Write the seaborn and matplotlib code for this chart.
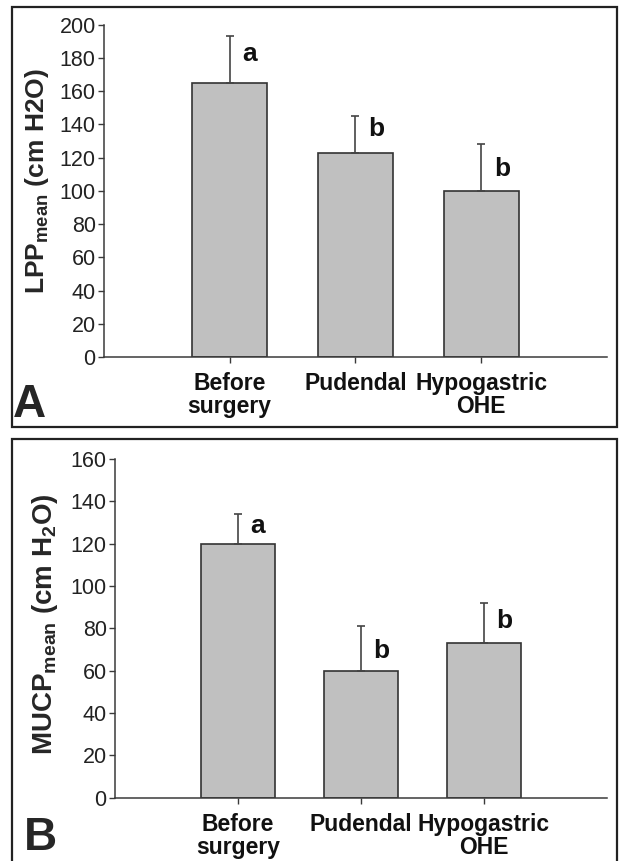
import numpy as np
import matplotlib
matplotlib.use("Agg")
import matplotlib.pyplot as plt
from matplotlib.patches import Rectangle
import seaborn as sns

# -----------------------------
# DATA
# -----------------------------
groups = ["Before\nsurgery", "Pudendal", "Hypogastric\nOHE"]

lpp_mean = [165, 123, 100]
lpp_sd = [28, 22, 28]
lpp_letters = ["a", "b", "b"]
lpp_letter_y = [178, 133, 109]

mucp_mean = [120, 60, 73]
mucp_sd = [14, 21, 19]
mucp_letters = ["a", "b", "b"]
mucp_letter_y = [125, 66, 80]

# -----------------------------
# STYLE
# -----------------------------
sns.set_style("ticks")
plt.rcParams["font.family"] = ["Liberation Sans", "DejaVu Sans"]
plt.rcParams["mathtext.fontset"] = "custom"
plt.rcParams["mathtext.rm"] = "Liberation Sans"
plt.rcParams["mathtext.bf"] = "Liberation Sans:bold"

BAR = "#C0C0C0"
EDGE = "#333333"
AX = "#3a3a3a"

fig = plt.figure(figsize=(6.2, 8.61), dpi=100)
ax_a = fig.add_axes([0.1677, 0.5854, 0.8113, 0.3859])
ax_b = fig.add_axes([0.1855, 0.0735, 0.7935, 0.3934])


def panel(ax, means, sds, letters, letter_y, ymax, ylabel, label_xy, ylab_size):
    sns.barplot(x=groups, y=means, color=BAR, saturation=1, width=0.6,
                edgecolor=EDGE, linewidth=1.2, ax=ax)
    pos = np.arange(len(groups))
    ax.errorbar(pos, means, yerr=[np.zeros(len(sds)), sds], fmt="none",
                ecolor="#444444", elinewidth=1.2, capsize=3, capthick=1.2)
    for i, (t, y) in enumerate(zip(letters, letter_y)):
        ax.text(i + 0.1, y, t, ha="left", va="baseline",
                fontsize=19, fontweight="bold", color="#111111")
    ax.set_xlim(-1, len(groups))
    ax.set_ylim(0, ymax)
    ax.set_yticks(np.arange(0, ymax + 1, 20))
    ax.tick_params(axis="y", labelsize=15.5, length=4, width=1, color=AX,
                   pad=2, labelcolor="#222222")
    ax.tick_params(axis="x", labelsize=16.5, length=4, width=1, color=AX,
                   pad=7, labelcolor="#111111")
    for lab in ax.get_xticklabels():
        lab.set_fontweight("bold")
        lab.set_linespacing(1.0)
    ax.set_ylabel(ylabel, fontsize=ylab_size, fontweight="bold", va="center")
    ax.yaxis.set_label_coords(*label_xy)
    ax.set_xlabel("")
    sns.despine(ax=ax)
    for s in ["left", "bottom"]:
        ax.spines[s].set_color(AX)
        ax.spines[s].set_linewidth(1.1)


panel(ax_a, lpp_mean, lpp_sd, lpp_letters, lpp_letter_y, 200,
      r"LPP$_{\mathbf{mean}}$ (cm H2O)", (-0.134, 0.53), 19)
panel(ax_b, mucp_mean, mucp_sd, mucp_letters, mucp_letter_y, 160,
      r"MUCP$_{\mathbf{mean}}$ (cm H$_{\mathbf{2}}$O)", (-0.143, 0.513), 20)

# panel letters
fig.text(13 / 620, 1 - 417 / 861, "A", fontsize=33, fontweight="bold", va="baseline")
fig.text(24 / 620, 1 - 850 / 861, "B", fontsize=33, fontweight="bold", va="baseline")

# panel frames
fig.add_artist(Rectangle((12 / 620, 1 - 427 / 861), 605 / 620, 420 / 861,
                         transform=fig.transFigure, fill=False, lw=1.6, ec="#222222"))
fig.add_artist(Rectangle((12 / 620, -0.02), 605 / 620, (422 / 861) + 0.02,
                         transform=fig.transFigure, fill=False, lw=1.6, ec="#222222"))

fig.savefig("out.png", dpi=100)
